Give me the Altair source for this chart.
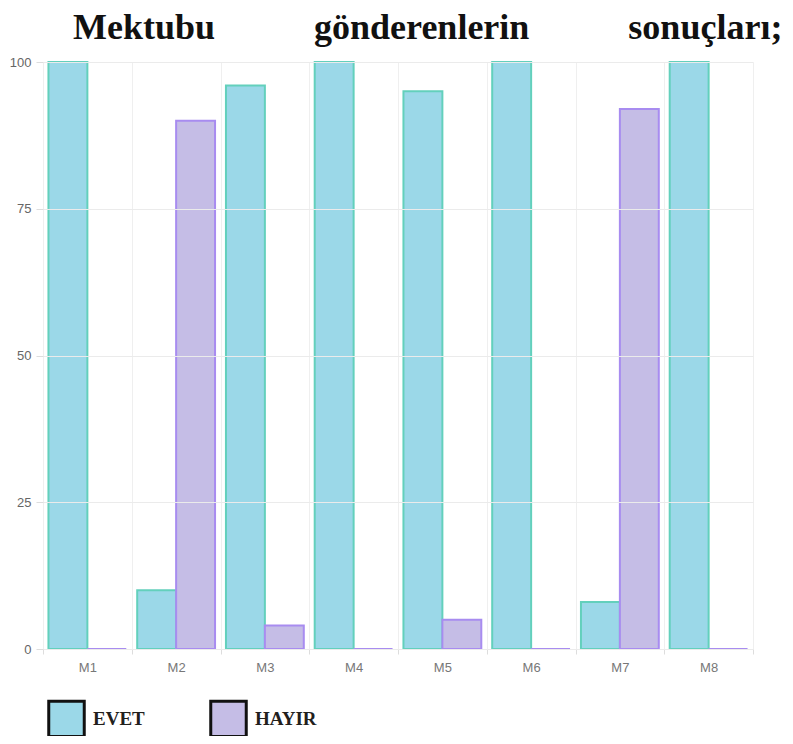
import altair as alt
import pandas as pd

categories = ["M1", "M2", "M3", "M4", "M5", "M6", "M7", "M8"]
evet = [100, 10, 96, 100, 95, 100, 8, 100]
hayir = [0, 90, 4, 0, 5, 0, 92, 0]
series = ["EVET", "HAYIR"]
fill_colors = ["#9bd8e8", "#c5bde6"]
stroke_colors = ["#63d0bc", "#a88cf0"]
y_ticks = [0, 25, 50, 75, 100]

rows = []
for c, e, h in zip(categories, evet, hayir):
    rows.append({"item": c, "answer": "EVET", "value": e})
    rows.append({"item": c, "answer": "HAYIR", "value": h})
df = pd.DataFrame(rows)

gap = "\u00a0" * 11
title_text = "Mektubu" + gap + "gönderenlerin" + gap + "sonuçları;"

chart = (
    alt.Chart(df)
    .mark_bar(strokeWidth=2)
    .encode(
        x=alt.X(
            "item:N",
            sort=categories,
            scale=alt.Scale(paddingInner=0, paddingOuter=0),
            axis=alt.Axis(
                title=None,
                labelAngle=0,
                tickBand="extent",
                grid=True,
                gridColor="#efefef",
                domain=False,
                tickSize=5,
                tickColor="#dddddd",
                labelFont="Liberation Sans",
                labelFontSize=13,
                labelColor="#777777",
                labelPadding=7,
            ),
        ),
        xOffset=alt.XOffset(
            "answer:N",
            sort=series,
            scale=alt.Scale(paddingOuter=0.14, paddingInner=0),
        ),
        y=alt.Y(
            "value:Q",
            scale=alt.Scale(domain=[0, 100], nice=False),
            axis=alt.Axis(
                title=None,
                values=y_ticks,
                domain=False,
                grid=True,
                gridColor="#ebebeb",
                tickSize=7,
                tickColor="#dddddd",
                labelFont="Liberation Sans",
                labelFontSize=13,
                labelColor="#666666",
                labelPadding=5,
                zindex=1,
            ),
        ),
        fill=alt.Fill(
            "answer:N",
            sort=series,
            scale=alt.Scale(domain=series, range=fill_colors),
            legend=alt.Legend(
                title=None,
                orient="none",
                direction="horizontal",
                legendX=4,
                legendY=637,
                symbolType="square",
                symbolSize=1260,
                symbolStrokeColor="#111111",
                symbolStrokeWidth=3,
                symbolOpacity=1,
                labelFont="Liberation Serif",
                labelFontWeight="bold",
                labelFontSize=19,
                labelColor="#22201c",
                labelOffset=7,
                columnPadding=59,
            ),
        ),
        stroke=alt.condition(
            alt.datum.answer == series[0],
            alt.value(stroke_colors[0]),
            alt.value(stroke_colors[1]),
        ),
    )
    .properties(
        width=710,
        height=587,
        autosize=alt.AutoSizeParams(type="none"),
        padding={"left": 35, "top": 54, "right": 32, "bottom": 87},
        title=alt.TitleParams(
            text=title_text,
            anchor="start",
            frame="group",
            font="Liberation Serif",
            fontSize=36,
            fontWeight="bold",
            color="#111111",
            offset=0,
            dy=-9,
            dx=30,
        ),
    )
    .configure_view(stroke=None)
)

chart.save("out.html", embed_options={"renderer": "svg", "actions": False})
